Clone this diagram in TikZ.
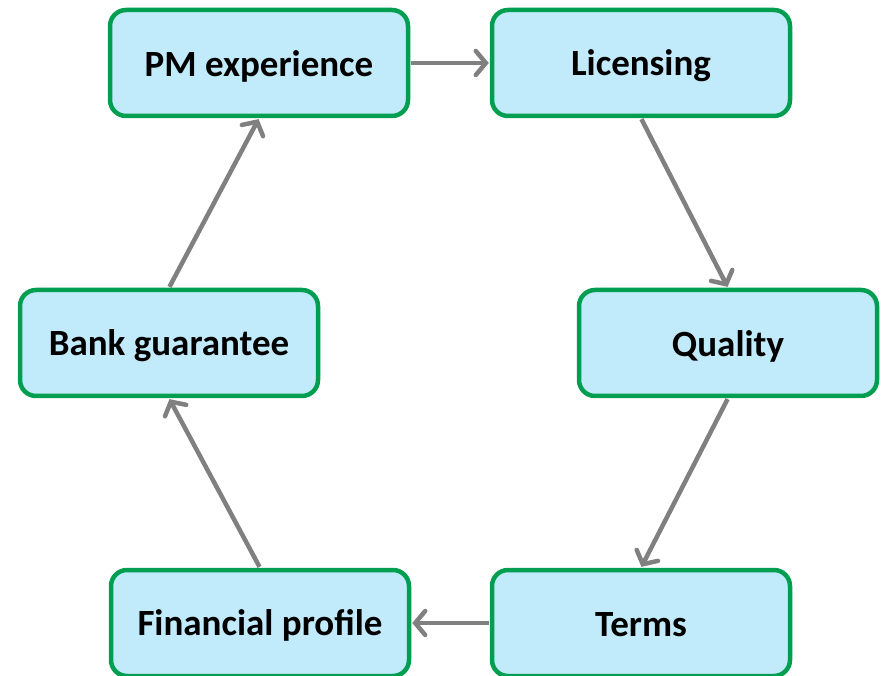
\documentclass[tikz,border=0pt]{standalone}
\usepackage{fontspec}
\setmainfont{Carlito}
\usetikzlibrary{arrows.meta}
\definecolor{boxgreen}{RGB}{0,158,80}
\definecolor{boxfill}{RGB}{193,234,250}
\definecolor{arrowgray}{RGB}{128,128,128}
\tikzset{
  stagebox/.style={draw=boxgreen, fill=boxfill, line width=4.5pt, rounded corners=16pt,
    minimum width=298pt, minimum height=106pt, inner sep=0pt,
    font=\fontsize{37}{44}\selectfont\bfseries, text=black},
  stagetext/.style={font=\fontsize{37}{44}\selectfont\bfseries, text=black, inner sep=0pt},
  flowarrow/.style={draw=arrowgray, line width=4.5pt,
    -{Straight Barb[length=10pt,width=24pt,line cap=round]}, shorten >=1pt, shorten <=1pt}
}
\begin{document}
\begin{tikzpicture}[x=1pt,y=1pt]
\useasboundingbox (0,0) rectangle (883,675);
\node[stagebox] (pm) at (259,612) {};
\node[stagebox] (lic) at (641,612) {};
\node[stagebox] (qual) at (728,332) {};
\node[stagebox] (terms) at (641,52) {};
\node[stagebox] (fin) at (260,52) {};
\node[stagebox] (bank) at (169,332) {};
\node[stagetext] (pmt) at ([yshift=-3pt]pm.center) {PM experience};
\node[stagetext] (lict) at ([yshift=-3pt]lic.center) {Licensing};
\node[stagetext] (qualt) at ([yshift=-3pt]qual.center) {Quality};
\node[stagetext] (termst) at ([yshift=-2pt]terms.center) {Terms};
\node[stagetext] (fint) at ([yshift=-2pt]fin.center) {Financial profile};
\node[stagetext] (bankt) at ([yshift=-3pt]bank.center) {Bank guarantee};
\draw[flowarrow] (pm.east) -- (lic.west);
\draw[flowarrow] (lic.south) -- (qual.north);
\draw[flowarrow] (qual.south) -- (terms.north);
\draw[flowarrow] (terms.west) -- (fin.east);
\draw[flowarrow] (fin.north) -- (bank.south);
\draw[flowarrow] (bank.north) -- (pm.south);
\end{tikzpicture}
\end{document}
